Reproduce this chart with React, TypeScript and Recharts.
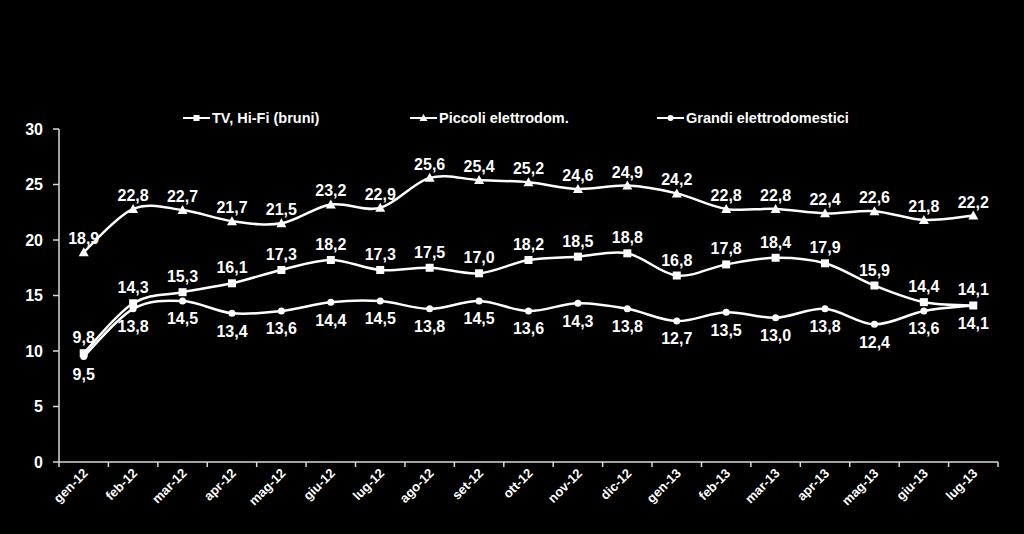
import React from 'react';
import { LineChart, Line, XAxis, YAxis, LabelList } from 'recharts';

const months = ['gen-12', 'feb-12', 'mar-12', 'apr-12', 'mag-12', 'giu-12', 'lug-12', 'ago-12', 'set-12', 'ott-12', 'nov-12', 'dic-12', 'gen-13', 'feb-13', 'mar-13', 'apr-13', 'mag-13', 'giu-13', 'lug-13'];
const tvHifi = [9.8, 14.3, 15.3, 16.1, 17.3, 18.2, 17.3, 17.5, 17.0, 18.2, 18.5, 18.8, 16.8, 17.8, 18.4, 17.9, 15.9, 14.4, 14.1];
const piccoli = [18.9, 22.8, 22.7, 21.7, 21.5, 23.2, 22.9, 25.6, 25.4, 25.2, 24.6, 24.9, 24.2, 22.8, 22.8, 22.4, 22.6, 21.8, 22.2];
const grandi = [9.5, 13.8, 14.5, 13.4, 13.6, 14.4, 14.5, 13.8, 14.5, 13.6, 14.3, 13.8, 12.7, 13.5, 13.0, 13.8, 12.4, 13.6, 14.1];
const yTicks = [0, 5, 10, 15, 20, 25, 30];

const data = months.map((m, i) => ({ idx: i, month: m, tv: tvHifi[i], piccoli: piccoli[i], grandi: grandi[i] }));
// integer ticks carry labels, half ticks are the boundary tick marks
const xTicks = months.flatMap((_, i) => [i - 0.5, i]).concat(months.length - 0.5);

const FONT = 'Arial, "Liberation Sans", sans-serif';
const AXIS = '#d9d9d9';

// Excel-like smoothing (Catmull-Rom)
const smoothCurve = (context: any) => {
    let pts: number[][] = [];
    return {
        areaStart() { },
        areaEnd() { },
        lineStart() { pts = []; },
        point(x: number, y: number) { pts.push([+x, +y]); },
        lineEnd() {
            if (!pts.length) return;
            context.moveTo(pts[0][0], pts[0][1]);
            for (let i = 0; i < pts.length - 1; i++) {
                const p0 = pts[i - 1] || pts[i];
                const p1 = pts[i];
                const p2 = pts[i + 1];
                const p3 = pts[i + 2] || p2;
                context.bezierCurveTo(
                    p1[0] + (p2[0] - p0[0]) / 6, p1[1] + (p2[1] - p0[1]) / 6,
                    p2[0] - (p3[0] - p1[0]) / 6, p2[1] - (p3[1] - p1[1]) / 6,
                    p2[0], p2[1]
                );
            }
        },
    };
};

const fmt = (v: any) => Number(v).toFixed(1).replace('.', ',');

const XTick = (props: any) => {
    const { x, y, payload } = props;
    const v = payload.value;
    if (!Number.isInteger(v)) {
        return <line x1={x} x2={x} y1={y} y2={y + 5} stroke={AXIS} strokeWidth={1.5} />;
    }
    const tx = x + 5;
    const ty = y + 12;
    return (
        <text x={tx} y={ty} transform={`rotate(-45, ${tx}, ${ty})`} textAnchor="end" fill="#fff" fontSize={13} fontWeight="bold" fontFamily={FONT}>
            {months[v]}
        </text>
    );
};

const SquareDot = (p: any) => <rect key={p.index} x={p.cx - 4} y={p.cy - 4} width={8} height={8} fill="#fff" />;
const TriangleDot = (p: any) => <path key={p.index} d={`M${p.cx},${p.cy - 5}L${p.cx + 5},${p.cy + 4}L${p.cx - 5},${p.cy + 4}Z`} fill="#fff" />;
const CircleDot = (p: any) => <circle key={p.index} cx={p.cx} cy={p.cy} r={3.5} fill="#fff" />;

const labelStyle = { fill: '#fff', fontSize: 16, fontWeight: 'bold' as const, fontFamily: FONT };

const legendItems = [
    { name: 'TV, Hi-Fi (bruni)', x: 183, marker: 'square' },
    { name: 'Piccoli elettrodom.', x: 410, marker: 'triangle' },
    { name: 'Grandi elettrodomestici', x: 657, marker: 'circle' },
];

const LegendMarker = ({ marker }: { marker: string }) => (
    <svg width={27} height={10} style={{ display: 'block' }}>
        <line x1={0} x2={27} y1={5} y2={5} stroke="#fff" strokeWidth={2} />
        {marker === 'square' && <rect x={10.5} y={2} width={6} height={6} fill="#fff" />}
        {marker === 'triangle' && <path d="M13.5,1L17.5,8L9.5,8Z" fill="#fff" />}
        {marker === 'circle' && <circle cx={13.5} cy={5} r={3} fill="#fff" />}
    </svg>
);

export default function App() {
    return (
        <div style={{ position: 'absolute', left: 0, top: 0, width: 1024, height: 534, background: '#000', overflow: 'hidden' }}>
            {legendItems.map(item => (
                <div key={item.name} style={{ position: 'absolute', left: item.x, top: 109, display: 'flex', alignItems: 'center', gap: 2, color: '#fff', fontFamily: FONT, fontWeight: 'bold', fontSize: 14.5, lineHeight: '18px' }}>
                    <LegendMarker marker={item.marker} />
                    <span>{item.name}</span>
                </div>
            ))}
            <LineChart width={1024} height={534} data={data} margin={{ top: 129, right: 26, left: 9, bottom: 0 }}>
                <XAxis
                    dataKey="idx"
                    type="number"
                    domain={[-0.5, months.length - 0.5]}
                    ticks={xTicks}
                    interval={0}
                    height={72}
                    tickSize={0}
                    tickMargin={0}
                    tickLine={false}
                    axisLine={{ stroke: AXIS, strokeWidth: 1.5 }}
                    tick={<XTick />}
                />
                <YAxis
                    domain={[0, 30]}
                    ticks={yTicks}
                    interval={0}
                    width={50}
                    tickSize={6}
                    tickMargin={10}
                    axisLine={{ stroke: AXIS, strokeWidth: 1.5 }}
                    tickLine={{ stroke: AXIS, strokeWidth: 1.5 }}
                    tick={{ fill: '#fff', fontSize: 16, fontWeight: 'bold', fontFamily: FONT }}
                />
                <Line dataKey="piccoli" type={smoothCurve as any} stroke="#fff" strokeWidth={2.5} dot={TriangleDot} activeDot={false} isAnimationActive={false}>
                    <LabelList dataKey="piccoli" position="top" offset={8} formatter={fmt} style={labelStyle} />
                </Line>
                <Line dataKey="tv" type={smoothCurve as any} stroke="#fff" strokeWidth={2.5} dot={SquareDot} activeDot={false} isAnimationActive={false}>
                    <LabelList dataKey="tv" position="top" offset={10} formatter={fmt} style={labelStyle} />
                </Line>
                <Line dataKey="grandi" type={smoothCurve as any} stroke="#fff" strokeWidth={2.5} dot={CircleDot} activeDot={false} isAnimationActive={false}>
                    <LabelList dataKey="grandi" position="bottom" offset={12} formatter={fmt} style={labelStyle} />
                </Line>
            </LineChart>
        </div>
    );
}
